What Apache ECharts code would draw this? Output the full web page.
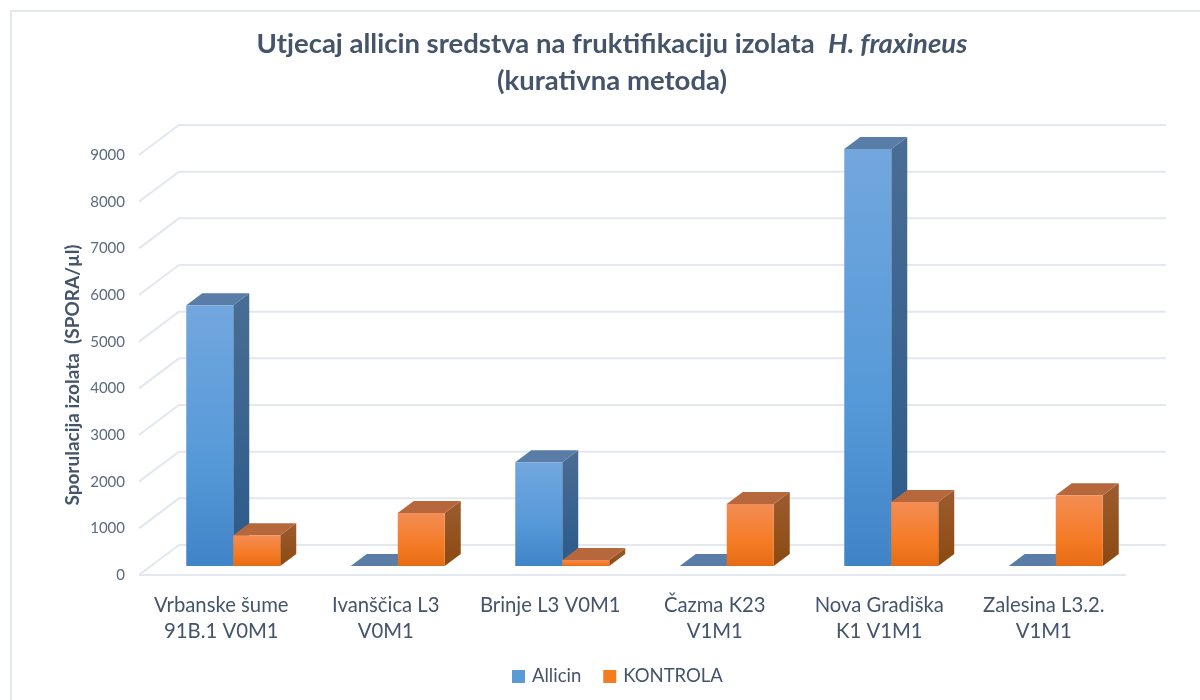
<!DOCTYPE html>
<html><head><meta charset="utf-8">
<style>html,body{margin:0;background:#fff}#c{width:1200px;height:700px}</style>
<script src="https://cdn.jsdelivr.net/npm/echarts@6/dist/echarts.min.js"></script>
</head><body><div id="c"></div>
<script>
const categories = ['Vrbanske šume\n91B.1 V0M1','Ivanščica L3\nV0M1','Brinje L3 V0M1','Čazma K23\nV1M1','Nova Gradiška\nK1 V1M1','Zalesina L3.2.\nV1M1'];
const allicin = [5585, 0, 2225, 0, 8935, 0];
const kontrola = [660, 1135, 130, 1330, 1370, 1515];
const yTicks = [0,1000,2000,3000,4000,5000,6000,7000,8000,9000];

const FONT = 'Lato';
const INK = '#44546a';
const GRID = '#e3e7ef';
const WALL = [40,-30], NEAR = [12,-9], BAR = [16,-12];
const BAR_SHARE = 47/164.5;
const lin = (a,b)=>new echarts.graphic.LinearGradient(0,0,0,1,[{offset:0,color:a},{offset:1,color:b}]);
const lin3 = (a,m,b)=>new echarts.graphic.LinearGradient(0,0,0,1,[{offset:0,color:a},{offset:.6,color:m},{offset:1,color:b}]);
const pal = {
  blue:{front:()=>lin3('#72a7de','#5699d8','#4084c8'),side:()=>lin('#4a6d94','#2b5a8a'),top:'#597da6'},
  orange:{front:()=>lin3('#f38d54','#f57b26','#e56c14'),side:()=>lin('#9c5c2f','#8c4a10'),top:'#b6683c'}
};
function barRender(p, dir){
  return function(params, api){
    const v0=api.coord([api.value(0),0]), v1=api.coord([api.value(0),api.value(1)]);
    const w=api.size([1,0])[0]*BAR_SHARE;
    const xl=v0[0]+NEAR[0]+(dir<0?-w:0), xr=xl+w;
    const yb=v0[1]+NEAR[1], yt=v1[1]+NEAR[1];
    const dx=BAR[0], dy=BAR[1];
    const poly=(pts,fill)=>({type:'polygon',shape:{points:pts},style:{fill:fill,stroke:null}});
    return {type:'group',children:[
      poly([[xr,yb],[xr+dx,yb+dy],[xr+dx,yt+dy],[xr,yt]],p.side()),
      poly([[xl,yt],[xl+dx,yt+dy],[xr+dx,yt+dy],[xr,yt]],p.top),
      poly([[xl,yb],[xl,yt],[xr,yt],[xr,yb]],p.front())
    ]};
  };
}
function gridRender(params, api){
  const y=api.coord([0,api.value(0)])[1];
  const cs=params.coordSys, x0=cs.x, x1=cs.x+cs.width;
  const line=(pts)=>({type:'polyline',shape:{points:pts},style:{stroke:GRID,lineWidth:2,fill:null}});
  const kids=[line([[x0,y],[x0+WALL[0],y+WALL[1]],[x1+WALL[0],y+WALL[1]]])];
  if(api.value(0)===0) kids.push(line([[x0,y],[x1,y]]));
  return {type:'group',children:kids};
}
const chart=echarts.init(document.getElementById('c'),null,{renderer:'canvas'});
chart.setOption({
  animation:false,
  backgroundColor:'#fff',
  textStyle:{fontFamily:FONT},
  title:{
    left:607,top:20,textAlign:'center',
    text:'{b|Utjecaj allicin sredstva na fruktifikaciju izolata  }{i|H. fraxineus}\n{b|(kurativna metoda)}',
    textStyle:{rich:{
      b:{fontFamily:FONT,fontSize:27.5,fontWeight:'bold',color:INK,lineHeight:37.5},
      i:{fontFamily:FONT,fontSize:27.5,fontWeight:'bold',fontStyle:'italic',color:INK,lineHeight:37.5}
    }}
  },
  legend:{
    left:507,top:662,itemWidth:13,itemHeight:13,itemGap:22,icon:'rect',
    textStyle:{fontFamily:FONT,fontSize:18.5,color:INK,padding:[0,0,0,2]},
    data:['Allicin','KONTROLA']
  },
  graphic:[{type:'polyline',silent:true,z:-1,shape:{points:[[11,700],[11,11],[1200,11]]},style:{stroke:GRID,lineWidth:2,fill:null}}],
  grid:{left:139,width:987,top:155,height:420},
  xAxis:{type:'category',data:categories,
    axisLine:{show:false},axisTick:{show:false},
    axisLabel:{fontFamily:FONT,fontSize:20.3,color:INK,lineHeight:26,margin:17,interval:0}},
  yAxis:{type:'value',min:0,max:9000,interval:1000,
    name:'Sporulacija izolata  (SPORA/µl)',nameLocation:'middle',nameGap:57,nameMoveOverlap:false,
    nameTextStyle:{fontFamily:FONT,fontSize:19,fontWeight:'bold',color:INK,padding:[0,20,0,0]},
    axisLine:{show:false},axisTick:{show:false},splitLine:{show:false},
    axisLabel:{fontFamily:FONT,fontSize:15,color:'#5c6a7e',margin:14,formatter:v=>String(v)}},
  series:[
    {type:'custom',name:'walls',silent:true,z:1,renderItem:gridRender,encode:{y:0},data:yTicks.map(v=>[v]),coordinateSystem:'cartesian2d',legendHoverLink:false},
    {type:'custom',name:'Allicin',z:2,itemStyle:{color:'#5b9bd5'},renderItem:barRender(pal.blue,-1),encode:{x:0,y:1},data:allicin.map((v,i)=>[i,v])},
    {type:'custom',name:'KONTROLA',z:3,itemStyle:{color:'#f47b20'},renderItem:barRender(pal.orange,1),encode:{x:0,y:1},data:kontrola.map((v,i)=>[i,v])}
  ]
});
</script></body></html>
